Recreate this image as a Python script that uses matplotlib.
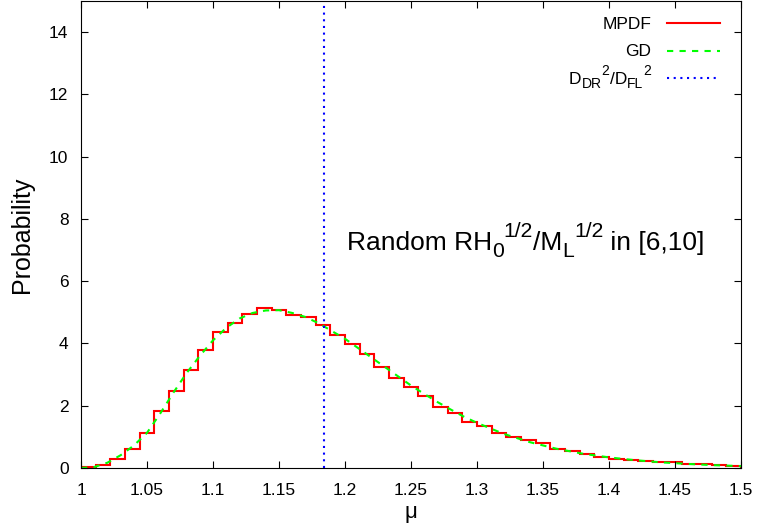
import numpy as np
import matplotlib
matplotlib.use("Agg")
import matplotlib.pyplot as plt
from matplotlib.transforms import offset_copy
from matplotlib.lines import Line2D

plt.rcParams['font.family'] = ['Liberation Sans', 'DejaVu Sans']

# histogram (MPDF), 45 bins on [1, 1.5]
bin_lo, bin_hi, n_bins = 1.0, 1.5, 45
mpdf = [0.02, 0.10, 0.28, 0.60, 1.14, 1.82, 2.48, 3.15, 3.79, 4.36,
        4.66, 4.96, 5.13, 5.08, 4.90, 4.85, 4.60, 4.26, 3.97, 3.65,
        3.25, 2.90, 2.61, 2.32, 1.97, 1.77, 1.49, 1.35, 1.14, 0.98,
        0.89, 0.79, 0.60, 0.53, 0.46, 0.36, 0.30, 0.25, 0.22, 0.20,
        0.18, 0.14, 0.12, 0.11, 0.08]

# GD curve
gd_x = [1.0, 1.01, 1.02, 1.03, 1.04, 1.05, 1.06, 1.07, 1.08, 1.09, 1.10,
        1.11, 1.12, 1.13, 1.14, 1.15, 1.16, 1.17, 1.18, 1.19, 1.20, 1.21,
        1.22, 1.23, 1.24, 1.25, 1.26, 1.27, 1.28, 1.29, 1.30, 1.32, 1.34,
        1.36, 1.38, 1.40, 1.42, 1.44, 1.46, 1.48, 1.50]
gd_y = [0.0, 0.03, 0.17, 0.41, 0.72, 1.13, 1.75, 2.42, 3.05, 3.60, 4.10,
        4.50, 4.80, 4.98, 5.06, 5.07, 4.98, 4.85, 4.65, 4.40, 4.15, 3.85,
        3.55, 3.25, 2.95, 2.65, 2.38, 2.12, 1.88, 1.65, 1.45, 1.10, 0.83,
        0.62, 0.46, 0.34, 0.25, 0.18, 0.13, 0.09, 0.06]

ratio_x = 1.184

W, H = 757, 524
fig = plt.figure(figsize=(W / 100, H / 100), dpi=100)
ax = fig.add_axes([81 / W, 1 - 468 / H, 660 / W, 467 / H])
renderer = fig.canvas.get_renderer()


def rich_text(x, y, parts, size, trans, ha='left'):
    # gnuplot-like enhanced text: pieces of normal / sub / sup text in a row
    texts, widths = [], []
    for s, kind in parts:
        fs = size if kind == 'n' else size * 0.8
        t = fig.text(x, y, s, fontsize=fs, transform=trans, va='baseline')
        texts.append((t, kind))
        widths.append(t.get_window_extent(renderer).width)
    pos = 0.0 if ha == 'left' else -sum(widths)
    for (t, kind), w in zip(texts, widths):
        dy = {'n': 0.0, 'sub': -0.25, 'sup': 0.5}[kind] * size
        t.set_transform(offset_copy(trans, fig=fig, x=pos * 72 / fig.dpi,
                                    y=dy, units='points'))
        pos += w


edges = np.linspace(bin_lo, bin_hi, n_bins + 1)
ax.stairs(mpdf, edges, color='#ff0000', lw=1.5)
ax.plot(gd_x, gd_y, color='#00ff00', lw=1.5, ls=(0, (3, 3)))
ax.axvline(ratio_x, color='#0000ff', lw=1.5, ls=(0, (1, 2.2)))

ax.set_xlim(1.0, 1.5)
ax.set_ylim(0, 15)
ax.set_xticks(np.arange(1.0, 1.501, 0.05))
ax.set_xticklabels(['1', '1.05', '1.1', '1.15', '1.2', '1.25', '1.3',
                    '1.35', '1.4', '1.45', '1.5'])
ax.set_yticks(np.arange(0, 15, 2))
ax.tick_params(direction='in', length=5, top=True, right=True, labelsize=12.5)
ax.tick_params(axis='x', pad=11)
ax.tick_params(axis='y', pad=9)

ax.set_xlabel('μ', fontsize=16)
ax.xaxis.set_label_coords(0.5, -0.072)
ax.set_ylabel('Probability', fontsize=18)
ax.yaxis.set_label_coords(-0.071, 0.5)

# annotation
rich_text(1.2013, 7.0,
          [('Random RH', 'n'), ('0', 'sub'), ('1/2', 'sup'), ('/M', 'n'),
           ('L', 'sub'), ('1/2', 'sup'), (' in [6,10]', 'n')],
          19, ax.transData)

# legend, gnuplot style (text right aligned, sample to the right)
pix = fig.transFigure
leg_labels = [[('MPDF', 'n')], [('GD', 'n')],
              [('D', 'n'), ('DR', 'sub'), ('2', 'sup'), ('/D', 'n'),
               ('FL', 'sub'), ('2', 'sup')]]
leg_styles = [dict(color='#ff0000', ls='-'),
              dict(color='#00ff00', ls=(0, (3, 3))),
              dict(color='#0000ff', ls=(0, (1, 2.2)))]
for i, (lab, st) in enumerate(zip(leg_labels, leg_styles)):
    yc = 23 + 27.5 * i
    rich_text(651 / W, 1 - (yc + 6) / H, lab, 12.5, pix, ha='right')
    fig.add_artist(Line2D([667 / W, 720 / W], [1 - yc / H, 1 - yc / H],
                          transform=pix, lw=1.5, **st))

fig.savefig('out.png', dpi=100)
